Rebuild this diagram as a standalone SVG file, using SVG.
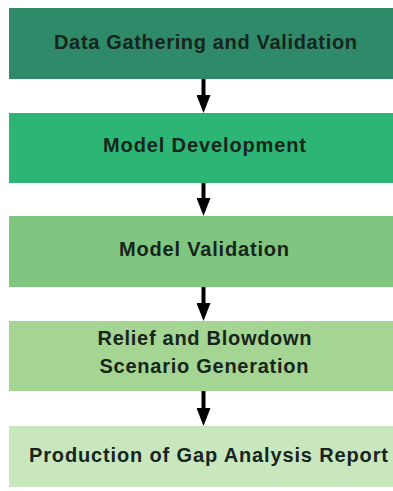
<svg xmlns="http://www.w3.org/2000/svg" width="393" height="491" viewBox="0 0 393 491">
  <style>
    .lbl { font-family: "Liberation Sans", Arial, sans-serif; font-weight: bold; font-size: 20px; fill: #17251c; text-anchor: middle; }
    .arrow { stroke: #000; stroke-width: 4; fill: none; }
  </style>
  <defs>
    <!-- arrowhead: base at the line end, tip 18px further along -->
    <marker id="head" markerUnits="userSpaceOnUse" markerWidth="18" markerHeight="14" refX="0" refY="7" orient="auto" viewBox="0 0 18 14">
      <path d="M0,0 L18,7 L0,14 Z" fill="#000"/>
    </marker>
  </defs>
  <rect width="393" height="491" fill="#ffffff"/>

  <g id="node-data-gathering">
    <rect x="9" y="8" width="384" height="71" fill="#2f8a6a"/>
    <text class="lbl" x="205.5" y="48.5" textLength="303" lengthAdjust="spacing">Data Gathering and Validation</text>
  </g>
  <g id="node-model-development">
    <rect x="9" y="113" width="384" height="70" fill="#2cb574"/>
    <text class="lbl" x="204.5" y="151.5" textLength="203" lengthAdjust="spacing">Model Development</text>
  </g>
  <g id="node-model-validation">
    <rect x="9" y="216" width="384" height="71" fill="#80c680"/>
    <text class="lbl" x="204" y="256" textLength="170" lengthAdjust="spacing">Model Validation</text>
  </g>
  <g id="node-relief-blowdown">
    <rect x="9" y="321" width="384" height="70" fill="#a5d592"/>
    <text class="lbl" x="204.5" y="345" textLength="214" lengthAdjust="spacing">Relief and Blowdown</text>
    <text class="lbl" x="204" y="372.5" textLength="209" lengthAdjust="spacing">Scenario Generation</text>
  </g>
  <g id="node-gap-report">
    <rect x="9" y="426" width="384" height="61" fill="#c9e7be"/>
    <text class="lbl" x="208.5" y="461.5" textLength="359" lengthAdjust="spacing">Production of Gap Analysis Report</text>
  </g>

  <g id="connectors">
    <line class="arrow" x1="203.5" y1="79" x2="203.5" y2="95" marker-end="url(#head)"/>
    <line class="arrow" x1="203.5" y1="183" x2="203.5" y2="198" marker-end="url(#head)"/>
    <line class="arrow" x1="203.5" y1="287" x2="203.5" y2="303" marker-end="url(#head)"/>
    <line class="arrow" x1="203.5" y1="391" x2="203.5" y2="408" marker-end="url(#head)"/>
  </g>
</svg>
